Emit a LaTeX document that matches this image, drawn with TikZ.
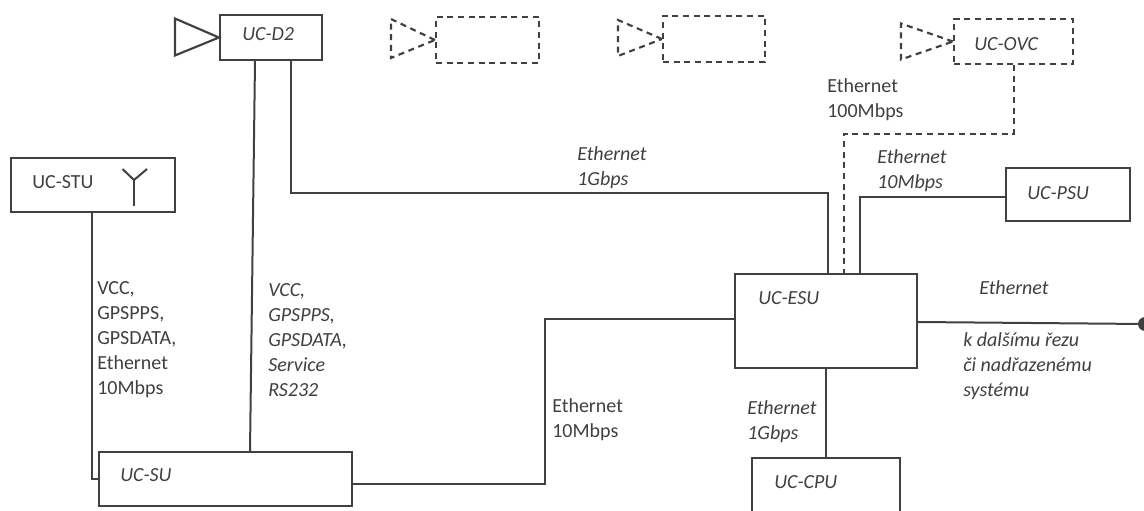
\documentclass[tikz,border=0pt]{standalone}
\usepackage{fontspec}
\setmainfont{Carlito}
\usetikzlibrary{arrows.meta,calc}
\usetikzlibrary{positioning}
\definecolor{linka}{gray}{0.25}

\begin{document}
\begin{tikzpicture}[
    x=0.75pt, y=-0.75pt,
    >=Stealth,
    font=\fontsize{15}{18.75}\selectfont,
    text=linka,
    blok/.style={draw=linka, line width=1.6pt, fill=none},
    blokdash/.style={blok, dash pattern=on 4.5pt off 3.5pt},
    spoj/.style={draw=linka, line width=1.5pt},
    spojdash/.style={spoj, dash pattern=on 4.5pt off 3.5pt},
    popis/.style={anchor=west, align=left, inner sep=0pt},
    popisit/.style={popis, font=\fontsize{15}{18.75}\selectfont\itshape}
  ]

  \useasboundingbox (0,0) rectangle (1144,510);
  \clip (0,0) rectangle (1144,510);

  % -- bloky --
  \node[blok, minimum width=76.5pt, minimum height=33.75pt] (D2) at (271,37.5) {};
  \node[blokdash, minimum width=77.25pt, minimum height=34.5pt] (CamA) at (487.5,40) {};
  \node[blokdash, minimum width=76.5pt, minimum height=34.5pt] (CamB) at (714,39) {};
  \node[blokdash, minimum width=89.25pt, minimum height=33.75pt] (OVC) at (1013.5,41.5) {};
  \node[blok, minimum width=123pt, minimum height=40.5pt] (STU) at (93,185) {};
  \node[blok, minimum width=93pt, minimum height=39.75pt] (PSU) at (1068,194.5) {};
  \node[blok, minimum width=136.5pt, minimum height=70.5pt] (ESU) at (826,321) {};
  \node[blok, minimum width=110.5pt, minimum height=48pt] (CPU) at (826,490) {};
  \node[blok, minimum width=189.75pt, minimum height=40.5pt] (SU) at (225.5,479) {};

  % -- kamery --
  \draw[blok] (D2.west) -- ++(-44,-19) -- ++(0,37) -- cycle;
  \draw[blokdash] (CamA.west) -- ++(-44,-21) -- ++(0,39) -- cycle;
  \draw[blokdash] (CamB.west) -- ++(-44,-19) -- ++(0,36) -- cycle;
  \draw[blokdash] (OVC.west) -- ++(-52,-18) -- ++(0,36) -- cycle;

  % -- anténa --
  \coordinate (Ant) at (134,180);
  \draw[spoj] (122.5,169) -- (Ant) -- (147,169);
  \draw[spoj] (Ant) -- (134,206);

  % -- spoje --
  \draw[spoj] ($(STU.south)+(-1,0)$) -- ++(0,266) -| (SU.west);
  \draw[spoj] ($(D2.south)+(-16,0)$) -- ($(SU.north)+(24.5,0)$);
  \draw[spoj] ($(D2.south)+(20,0)$) |- (828,193) -- ($(ESU.north)+(2,0)$);
  \draw[spoj] ($(SU.east)+(0,5)$) -| (545,319) -- ($(ESU.west)+(0,-2)$);
  \draw[spojdash] (OVC.south) |- (844,134) -- ($(ESU.north)+(18,0)$);
  \draw[spoj] ($(PSU.west)+(0,2.5)$) -| ($(ESU.north)+(34,0)$);
  \draw[spoj] (ESU.south) -- (CPU.north);
  \node[circle, fill=linka, minimum size=10.5pt, inner sep=0pt] (Dal) at (1145,324) {};
  \draw[spoj] ($(ESU.east)+(0,1)$) -- (Dal);

  % -- názvy bloků --
  \node[popisit] (tD2) at (242,34) {UC-D2};
  \node[popisit] (tOVC) at (974,44) {UC-OVC};
  \node[popis] (tSTU) at (32,182) {UC-STU};
  \node[popisit] (tPSU) at (1027,193) {UC-PSU};
  \node[popisit] (tESU) at (758,298) {UC-ESU};
  \node[popisit] (tSU) at (120,475) {UC-SU};
  \node[popisit] (tCPU) at (774,482) {UC-CPU};

  % -- popisy spojů --
  \node[popisit] (p1G) at (577,168) {Ethernet\\1Gbps};
  \node[popis] (p100M) at (827,100) {Ethernet\\100Mbps};
  \node[popisit] (p10M) at (877,171) {Ethernet\\10Mbps};
  \node[popis] (pSTU) at (97,340) {VCC,\\GPSPPS,\\GPSDATA,\\Ethernet\\10Mbps};
  \node[popisit] (pD2) at (268,340) {VCC,\\GPSPPS,\\GPSDATA,\\Service\\RS232};
  \node[popis] (pSU) at (552,420) {Ethernet\\10Mbps};
  \node[popisit] (pCPU) at (747,422) {Ethernet\\1Gbps};
  \node[popisit] (pDal) at (979,288) {Ethernet};
  \node[popisit] (pRez) at (963,366) {k dalšímu řezu\\či nadřazenému\\systému};

\end{tikzpicture}
\end{document}
